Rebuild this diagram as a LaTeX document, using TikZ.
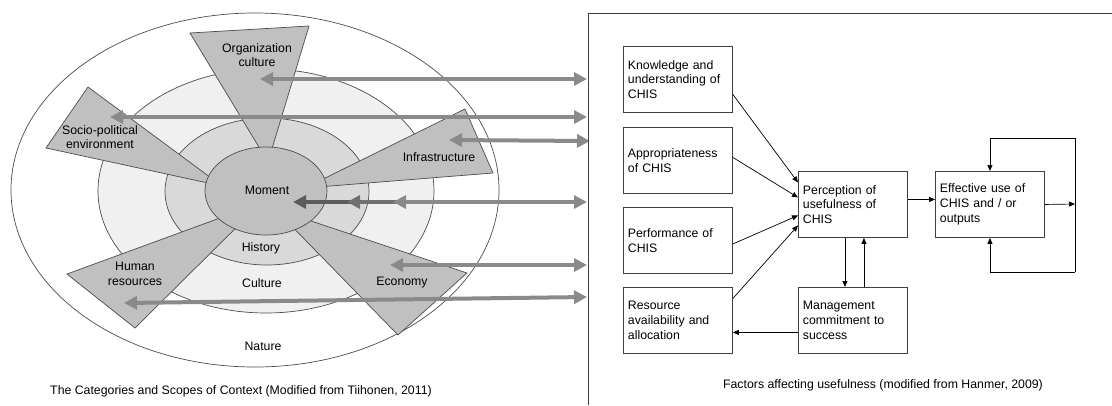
\documentclass[tikz,border=0pt]{standalone}
\usepackage{fontspec}
\setmainfont{Liberation Sans}
\usetikzlibrary{arrows.meta}

\definecolor{ringgray}{HTML}{F0F0F0}
\definecolor{histgray}{HTML}{D9D9D9}
\definecolor{wedgegray}{HTML}{C0C0C0}
\definecolor{linkgray}{HTML}{8A8A8A}
\definecolor{linkmid}{HTML}{707070}
\definecolor{linkdark}{HTML}{5C5C5C}

\begin{document}
\begin{tikzpicture}[x=1pt,y=-1pt,
  lbl/.style={font=\fontsize{12.3}{14.7}\selectfont, align=center, inner sep=0pt},
  ring/.style={draw=black!70, line width=0.7pt},
  wedge/.style={draw=black!70, fill=wedgegray, line width=0.7pt},
  link/.style={draw=linkgray, line width=4pt, {Triangle[length=13pt,width=13pt]}-{Triangle[length=13pt,width=13pt]}},
  box/.style={draw=black!75, line width=0.9pt, minimum width=109pt, minimum height=66pt,
    text width=100pt, inner xsep=4.5pt, align=left, anchor=north west,
    font=\fontsize{12.3}{14.7}\selectfont},
  flow/.style={-{Triangle[length=6pt,width=5pt]}, line width=0.7pt}
]
\useasboundingbox (0,0) rectangle (1112,405);

% Rings of context
\draw[ring, fill=white] (255,190) ellipse [x radius=244pt, y radius=177pt];
\draw[ring, fill=ringgray] (266,191) ellipse [x radius=168pt, y radius=122pt];
\draw[ring, fill=histgray] (267,191.5) ellipse [x radius=102pt, y radius=73.5pt];

% Wedges
\draw[wedge] (190,33) -- (309,26) -- (268,162) -- cycle;
\draw[wedge] (88,87) -- (46,148) -- (222,186) -- cycle;
\draw[wedge] (465,109) -- (493,173) -- (305,188) -- cycle;
\draw[wedge] (467,273) -- (398,335) -- (275,209) -- cycle;
\draw[wedge] (67,274) -- (135,328) -- (261,203) -- cycle;

% Moment in the middle
\draw[ring, fill=wedgegray] (266,191) ellipse [x radius=61pt, y radius=44pt];

% Labels
\node[lbl] (orgcult) at (257,55) {Organization\\culture};
\node[lbl] (sociopol) at (100,137) {Socio-political\\environment};
\node[lbl] (infra) at (439,157) {Infrastructure};
\node[lbl] (moment) at (267,190) {Moment};
\node[lbl] (history) at (261,248) {History};
\node[lbl] (culture) at (262,283) {Culture};
\node[lbl] (nature) at (263,346) {Nature};
\node[lbl] (economy) at (402,283) {Economy};
\node[lbl] (humanres) at (135,274) {Human\\resources};
\node[lbl] (leftcap) at (241,391) {The Categories and Scopes of Context (Modified from Tiihonen, 2011)};

% Arrow ends
\coordinate (orgL) at (260,79);
\coordinate (orgR) at (587,79);
\coordinate (socL) at (110,117);
\coordinate (socR) at (587,117);
\coordinate (infL) at (449,140);
\coordinate (infR) at (590,141);
\coordinate (momA) at (293,202);
\coordinate (momA2) at (362,202);
\coordinate (momB) at (347,202);
\coordinate (momB2) at (408,202);
\coordinate (momC) at (393,202);
\coordinate (momR) at (587,202);
\coordinate (ecoL) at (390,265);
\coordinate (ecoR) at (587,265);
\coordinate (humL) at (124,303);
\coordinate (humR) at (587,297);

% Links to the factors
\draw[link] (orgL) -- (orgR);
\draw[link] (socL) -- (socR);
\draw[link] (infL) -- (infR);
\draw[draw=linkdark, line width=4pt, {Triangle[length=13pt,width=13pt]}-] (momA) -- (momA2);
\draw[draw=linkmid, line width=4pt, {Triangle[length=13pt,width=13pt]}-] (momB) -- (momB2);
\draw[link] (momC) -- (momR);
\draw[link] (ecoL) -- (ecoR);
\draw[link] (humL) -- (humR);

% Right panel frame
\draw[black!75, line width=0.9pt] (588,405) -- (588,13) -- (1112,13);

% Factor boxes
\node[box] (know) at (623,46) {Knowledge and\\understanding of\\CHIS};
\node[box] (approp) at (623,127) {Appropriateness\\of CHIS};
\node[box] (perform) at (623,207) {Performance of\\CHIS};
\node[box] (resource) at (623,287) {Resource\\availability and\\allocation};
\node[box] (percep) at (798,171) {Perception of\\usefulness of\\CHIS};
\node[box] (manage) at (798,287) {Management\\commitment to\\success};
\node[box] (effect) at (935,171) {Effective use of\\CHIS and / or\\outputs};
\node[lbl] (rightcap) at (883,385) {Factors affecting usefulness (modified from Hanmer, 2009)};

% Connectors
\draw[flow] ([yshift=-15pt]know.east) -- ([yshift=22pt]percep.west);
\draw[flow] ([yshift=3pt]approp.east) -- ([yshift=7pt]percep.west);
\draw[flow] ([yshift=-3.5pt]perform.east) -- ([yshift=-11pt]percep.west);
\draw[flow] ([yshift=22pt]resource.east) -- ([yshift=-21pt]percep.west);
\draw[flow] ([xshift=-8pt]percep.south) -- ([xshift=-8pt]manage.north);
\draw[flow] ([xshift=11pt]manage.north) -- ([xshift=11pt]percep.south);
\draw[flow] ([yshift=-12pt]manage.west) -- ([yshift=-12pt]resource.east);
\draw[flow] ([yshift=5pt]percep.east) -- ([yshift=5pt]effect.west);

% Feedback loop
\coordinate (loopR) at (1075,204);
\coordinate (looptop) at (1075,138);
\coordinate (loopbot) at (1075,272);
\draw[flow] (effect.east) -- (loopR);
\draw[line width=0.7pt] (looptop) -- (loopbot);
\draw[flow] (looptop) -| (effect.north);
\draw[flow] (loopbot) -| (effect.south);
\end{tikzpicture}
\end{document}
